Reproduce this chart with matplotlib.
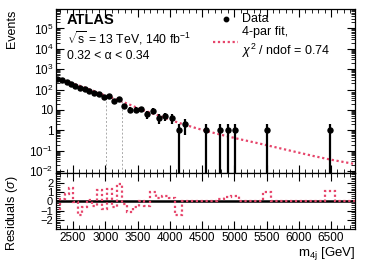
import numpy as np
import matplotlib
matplotlib.use("Agg")
import matplotlib.pyplot as plt
from matplotlib.ticker import MultipleLocator, LogLocator, FixedLocator, FuncFormatter, NullFormatter

plt.rcParams['font.family'] = ['Liberation Sans', 'DejaVu Sans']
plt.rcParams['mathtext.fontset'] = 'custom'
plt.rcParams['mathtext.rm'] = 'Liberation Sans'
plt.rcParams['mathtext.it'] = 'Liberation Sans:italic'
plt.rcParams['mathtext.bf'] = 'Liberation Sans:bold'

# ---------------- data ----------------
bin_edges = [2209, 2294, 2372, 2437, 2500, 2573, 2646, 2717, 2792, 2868,
             2945, 3021, 3099, 3178, 3255, 3340, 3434, 3517, 3604, 3697,
             3782, 3883, 3984, 4084, 4187, 4292, 4399, 4506, 4615, 4726,
             4838, 4953, 5070, 5190, 5312, 5438, 5565, 5697, 5833, 5972,
             6115, 6262, 6413, 6565, 6720, 6880]
counts = [336, 280, 224, 190, 152, 113, 105, 86, 64, 61,
          41, 46, 26, 34, 16, 10, 10, 11, 6, 9,
          4, 5, 4, 1, 2, 0, 0, 1, 0, 1,
          1, 1, 0, 0, 0, 1, 0, 0, 0, 0,
          0, 0, 1, 0, 0]
residuals = [-0.8, 0.3, 0.8, 1.5, -0.1, -1.5, -0.65, 0.2, -0.5, 1.3,
             -0.8, 1.4, -0.6, 1.9, -0.3, -1.2, -0.65, 0.1, -0.5, 1.0,
             0.4, 0.6, 0.4, -1.5, 0.0, 0.0, 0.0, 0.0, 0.0, 0.25,
             0.45, 0.6, 0.0, 0.0, 0.0, 1.0, 0.0, 0.0, 0.0, 0.0,
             0.0, 0.0, 1.1, 0.0, 0.0]
fit_x = [2230, 2400, 2612, 2800, 2922, 3100, 3232, 3400, 3542, 3700, 3852,
         4054, 4162, 4400, 4580, 4800, 5092, 5400, 5712, 6000, 6223, 6500, 6870]
fit_y = [360, 250, 150, 90, 62, 40, 28, 17, 11, 7.3, 5.0,
         2.9, 2.2, 1.3, 0.9, 0.6, 0.36, 0.22, 0.13, 0.08, 0.055, 0.036, 0.022]
window_x = [3015, 3252]
window_top = [47, 37]

xlim = (2236, 6872)
ylim = (8e-3, 9.0e5)

red = '#e6456b'

# ---------------- figure ----------------
W, H = 374, 268
fig = plt.figure(figsize=(W / 100, H / 100), dpi=100)
L, R = 56, 355
ax = fig.add_axes([L / W, (H - 173) / H, (R - L) / W, (173 - 9) / H])
axr = fig.add_axes([L / W, (H - 229) / H, (R - L) / W, (229 - 173) / H], sharex=ax)

edges = np.array(bin_edges, float)
centers = 0.5 * (edges[:-1] + edges[1:])
n = np.array(counts, float)
m = n > 0

ax.set_yscale('log')
ax.set_xlim(*xlim)
ax.set_ylim(*ylim)

# fit curve
ax.plot(fit_x, fit_y, color=red, lw=1.6, ls=(0, (1, 1.2)), zorder=2)

# window lines
for wx, wt in zip(window_x, window_top):
    ax.plot([wx, wx], [ylim[0], wt], color='#aaaaaa', lw=0.7, ls=(0, (2, 2)), zorder=1)

# data
err = np.sqrt(n[m])
lo = np.maximum(n[m] - err, 1e-9)
hi = n[m] + err
ax.vlines(centers[m], lo, hi, color='black', lw=1.6, zorder=3)
ax.plot(centers[m], n[m], 'o', color='black', ms=3.6, zorder=4)

# residuals
axr.axhline(0, color='black', lw=1.8, zorder=1)
axr.stairs(residuals, edges, color=red, lw=1.6, ls=(0, (1, 1.2)), baseline=None, zorder=2)
axr.set_ylim(-3.0, 3.1)

# ticks
for a in (ax, axr):
    a.tick_params(which='both', direction='in', top=True, right=True, labelsize=8.5, pad=2)
    a.tick_params(which='major', length=6, width=0.8)
    a.tick_params(which='minor', length=3, width=0.6)
    for s in a.spines.values():
        s.set_linewidth(0.9)
ax.xaxis.set_major_locator(MultipleLocator(500))
ax.xaxis.set_minor_locator(MultipleLocator(100))
ax.tick_params(axis='x', labelbottom=False)
ax.yaxis.set_major_locator(LogLocator(base=10, numticks=20))
ax.yaxis.set_minor_locator(LogLocator(base=10, subs=np.arange(2, 10), numticks=20))
ax.yaxis.set_minor_formatter(NullFormatter())

def yfmt(v, pos):
    e = int(round(np.log10(v)))
    if e == 0:
        return '1'
    if e == 1:
        return '10'
    return r'$10^{%d}$' % e if e > 0 else r'$10^{\mathdefault{-}%d}$' % (-e)
ax.yaxis.set_major_formatter(FuncFormatter(yfmt))

axr.yaxis.set_major_locator(FixedLocator([-2, -1, 0, 1, 2]))
axr.yaxis.set_minor_locator(MultipleLocator(0.2))
axr.yaxis.set_major_formatter(FuncFormatter(lambda v, p: ('%d' % v).replace('-', '\u2212')))
axr.tick_params(axis='y', labelsize=8)
axr.set_xticks([2500, 3000, 3500, 4000, 4500, 5000, 5500, 6000, 6500])

# labels
fig.text(12 / W, 1 - 10 / H, 'Events', rotation=90, ha='center', va='top', fontsize=9)
fig.text(12 / W, 1 - 213 / H, 'Residuals ($\\sigma$)', rotation=90, ha='center', va='center', fontsize=9)
fig.text(R / W, 1 - 253 / H, 'm$_{\\mathregular{4j}}$ [GeV]', ha='right', va='center', fontsize=9.5)

# annotations
fig.text(67 / W, 1 - 20 / H, 'ATLAS', ha='left', va='center', fontsize=10.5, fontweight='bold')
fig.text(67 / W, 1 - 38 / H, '$\\sqrt{\\mathregular{s}}$ = 13 TeV, 140 fb$^{\\mathregular{-1}}$', ha='left', va='center', fontsize=8.8)
fig.text(67 / W, 1 - 56 / H, '0.32 < \u03b1 < 0.34', ha='left', va='center', fontsize=8.8)

# legend (manual)
fig.lines.append(plt.Line2D([226 / W], [1 - 19 / H], marker='o', color='black', ms=3.2,
                            transform=fig.transFigure, ls='none'))
fig.text(242 / W, 1 - 19 / H, 'Data', ha='left', va='center', fontsize=9)
fig.lines.append(plt.Line2D([213 / W, 238 / W], [1 - 42 / H, 1 - 42 / H], color=red, lw=1.6,
                            ls=(0, (1, 1.2)), transform=fig.transFigure))
fig.text(242 / W, 1 - 32 / H, '4-par fit,', ha='left', va='center', fontsize=9)
fig.text(242 / W, 1 - 51 / H, '$\\chi^{\\mathregular{2}}$ / ndof = 0.74', ha='left', va='center', fontsize=9)

fig.savefig('out.png', dpi=100)
